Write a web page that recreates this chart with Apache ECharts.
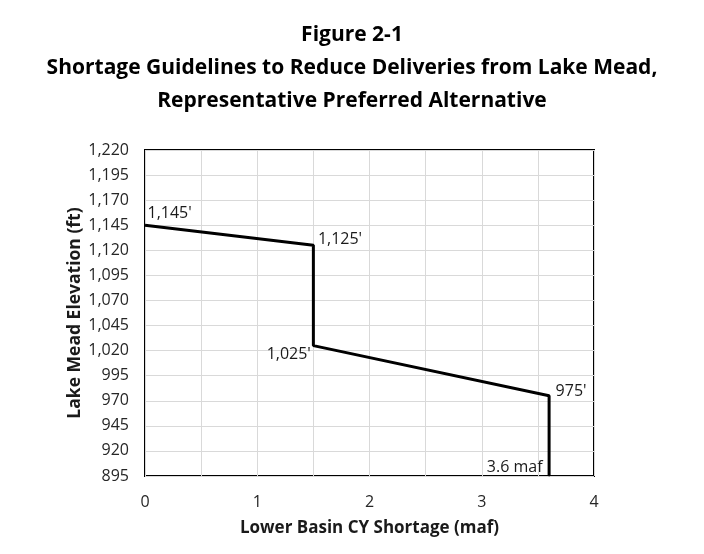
<!DOCTYPE html>
<html>
<head>
<meta charset="utf-8">
<script src="https://cdn.jsdelivr.net/npm/echarts@6/dist/echarts.min.js"></script>
<style>
    html, body { margin: 0; padding: 0; background: #fff; }
    #chart { width: 704px; height: 554px; }
</style>
</head>
<body>
<div id="chart"></div>
<script>
// shortage steps: x = shortage (maf), y = elevation (ft)
const shortageMaf = [0, 1.5, 1.5, 3.6, 3.6];
const elevationFt = [1145, 1125, 1025, 975, 895];
const pointLabels = ["1,145'", "1,125'", "1,025'", "975'", "3.6 maf"];

const fontFamily = '"Open Sans", sans-serif';

function withComma(v) {
    return String(v).replace(/\B(?=(\d{3})+(?!\d))/g, ',');
}

// where each point label sits relative to its point
const labelPlacement = [
    { position: 'right', offset: [-2, -12] },
    { position: 'right', offset: [0, -6] },
    { position: 'left', offset: [2, 9] },
    { position: 'right', offset: [2, -4] },
    { position: 'left', offset: [-2, -9] }
];

let lineData = shortageMaf.map((x, i) => {
    return {
        value: [x, elevationFt[i]],
        label: {
            show: true,
            formatter: pointLabels[i],
            position: labelPlacement[i].position,
            offset: labelPlacement[i].offset,
            distance: 4,
            color: '#1a1a1a',
            fontSize: 16,
            fontFamily: fontFamily
        }
    };
});

let myChart = echarts.init(document.getElementById('chart'));
let option = {
    backgroundColor: '#fff',
    animation: false,
    title: {
        text: 'Figure 2-1\nShortage Guidelines to Reduce Deliveries from Lake Mead,\nRepresentative Preferred Alternative',
        left: 'center',
        top: 14,
        textStyle: {
            fontFamily: fontFamily,
            fontSize: 21,
            fontWeight: 'bold',
            color: '#000',
            lineHeight: 33
        }
    },
    grid: {
        left: 145,
        right: 110,
        top: 150,
        bottom: 78,
        show: true,
        borderColor: '#000',
        borderWidth: 2
    },
    xAxis: {
        type: 'value',
        min: 0,
        max: 4,
        interval: 0.5,
        name: 'Lower Basin CY Shortage (maf)',
        nameLocation: 'middle',
        nameGap: 44,
        nameMoveOverlap: false,
        nameTextStyle: {
            fontFamily: fontFamily,
            fontSize: 17,
            fontWeight: 'bold',
            color: '#1a1a1a'
        },
        axisLine: { show: false },
        axisTick: { show: false },
        axisLabel: {
            margin: 18,
            fontFamily: fontFamily,
            fontSize: 16,
            color: '#262626',
            formatter: v => (v % 1 === 0 ? String(v) : '')
        },
        splitLine: { lineStyle: { color: '#d9d9d9', width: 1 } }
    },
    yAxis: {
        type: 'value',
        min: 895,
        max: 1220,
        interval: 25,
        name: 'Lake Mead Elevation (ft)',
        nameLocation: 'middle',
        nameGap: 61,
        nameMoveOverlap: false,
        nameTextStyle: {
            fontFamily: fontFamily,
            fontSize: 17.5,
            fontWeight: 'bold',
            color: '#1a1a1a'
        },
        axisLine: { show: false },
        axisTick: { show: false },
        axisLabel: {
            margin: 16,
            fontFamily: fontFamily,
            fontSize: 16,
            color: '#262626',
            formatter: v => withComma(v)
        },
        splitLine: { lineStyle: { color: '#d9d9d9', width: 1 } }
    },
    series: [{
        type: 'line',
        data: lineData,
        symbol: 'circle',
        symbolSize: 1,
        showSymbol: true,
        itemStyle: { color: '#000' },
        lineStyle: { color: '#000', width: 3 }
    }]
};
myChart.setOption(option);
</script>
</body>
</html>
